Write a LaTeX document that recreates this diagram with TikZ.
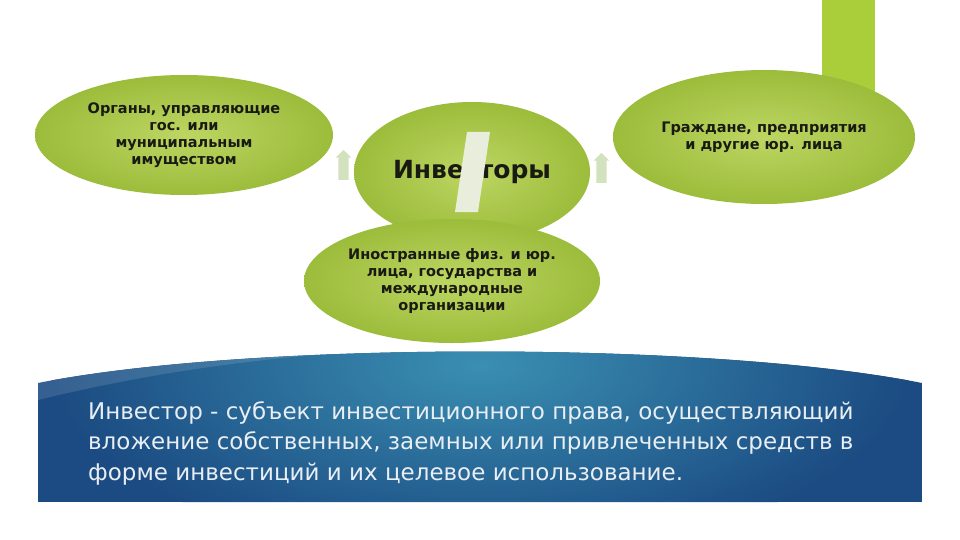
\documentclass[tikz,border=0pt]{standalone}
\usepackage{fontspec}
\setmainfont{DejaVu Sans}
\usetikzlibrary{positioning,calc,shapes.geometric,shapes.arrows,backgrounds}
\definecolor{leafLight}{HTML}{BDD662}
\definecolor{leafDark}{HTML}{9CBC3B}
\definecolor{leafBar}{HTML}{A9CE3A}
\definecolor{leafPale}{HTML}{D2E2BE}
\definecolor{inkDark}{HTML}{1A1A14}
\definecolor{seaDark}{HTML}{1B4B82}
\definecolor{seaLight}{HTML}{3A8FB2}
\definecolor{seaInk}{HTML}{E8EEF3}
\definecolor{stripe}{HTML}{E9EEDC}
\begin{document}
\begin{tikzpicture}[x=1pt,y=-1pt,
  blob/.style={ellipse,inner sep=0pt,shading=radial,inner color=leafLight,
    outer color=leafDark,align=center,text=inkDark,
    font=\fontsize{14.5}{17}\selectfont\bfseries},
  hint/.style={single arrow,single arrow head extend=2.5pt,minimum height=30pt,
    inner sep=5pt,fill=leafPale,shape border rotate=90}]
\useasboundingbox (0,0) rectangle (960,540);
% accent bar
\fill[leafBar] (822,0) rectangle (875,100);
% investors
\node[blob,minimum width=236pt,minimum height=140pt,
  font=\fontsize{25}{28}\selectfont\bfseries] (invest) at (472,172) {Инвесторы};
\fill[stripe] (467,132) -- (490,132) -- (478,212) -- (455,212) -- cycle;
% groups
\node[blob,minimum width=298pt,minimum height=120pt] (organs) at (184,135)
  {Органы, управляющие\\гос. или\\муниципальным\\имуществом};
\node[blob,minimum width=302pt,minimum height=134pt] (citizens) at (764,137)
  {Граждане, предприятия\\и другие юр. лица};
\node[blob,minimum width=296pt,minimum height=124pt] (foreign) at (452,281)
  {Иностранные физ. и юр.\\лица, государства и\\международные\\организации};
% hints
\node[hint] (hintL) at ($(organs.east)!0.5!(invest.west)+(0,14)$) {};
\node[hint] (hintR) at ($(invest.east)!0.5!(citizens.west)+(0,16)$) {};
% banner
\begin{scope}
\clip (38,383) .. controls (250,341) and (710,341) .. (922,383)
  -- (922,502) -- (38,502) -- cycle;
\fill[seaDark] (38,330) rectangle (922,502);
\shade[inner color=seaLight,outer color=seaDark] (480,365) ellipse (430 and 190);
\fill[white,opacity=0.12] (38,383) .. controls (150,360) and (260,352) .. (380,350)
  .. controls (250,358) and (140,375) .. (38,400) -- cycle;
\end{scope}
\node[anchor=west,align=left,text=seaInk,inner sep=0pt,
  font=\fontsize{23}{30.5}\selectfont] (define) at (88,443)
  {Инвестор - субъект инвестиционного права, осуществляющий\\
   вложение собственных, заемных или привлеченных средств в\\
   форме инвестиций и их целевое использование.};
\end{tikzpicture}
\end{document}
